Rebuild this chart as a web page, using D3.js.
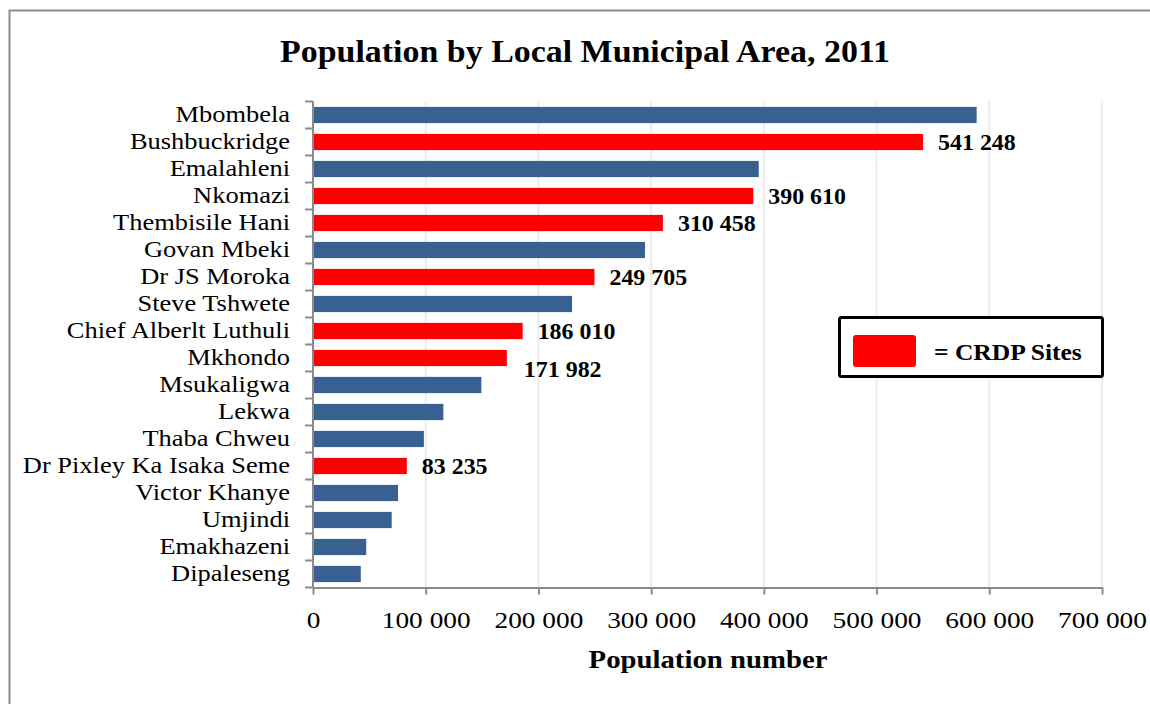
<!DOCTYPE html>
<html>
<head>
<meta charset="utf-8">
<script src="https://cdn.jsdelivr.net/npm/d3@7"></script>
<style>
  html, body { margin: 0; padding: 0; background: #fff; }
  svg { display: block; }
  text { font-family: "Liberation Serif", "Times New Roman", serif; fill: #000; }
</style>
</head>
<body>
<svg id="chart" width="1150" height="704"></svg>
<script>
// Local municipalities, listed top to bottom
const municipalities = [
  "Mbombela", "Bushbuckridge", "Emalahleni", "Nkomazi", "Thembisile Hani",
  "Govan Mbeki", "Dr JS Moroka", "Steve Tshwete", "Chief Alberlt Luthuli",
  "Mkhondo", "Msukaligwa", "Lekwa", "Thaba Chweu", "Dr Pixley Ka Isaka Seme",
  "Victor Khanye", "Umjindi", "Emakhazeni", "Dipaleseng"
];
// Population, 2011
const population = [
  588794, 541248, 395466, 390610, 310458,
  294538, 249705, 229831, 186010,
  171982, 149377, 115662, 98387, 83235,
  75452, 69800, 47216, 42390
];
// 1 = CRDP site (highlighted and labelled)
const crdpSite = [
  0, 1, 0, 1, 1,
  0, 1, 0, 1,
  1, 0, 0, 0, 1,
  0, 0, 0, 0
];
const xTickValues = [0, 100000, 200000, 300000, 400000, 500000, 600000, 700000];
const chartTitle = "Population by Local Municipal Area, 2011";
const xAxisTitle = "Population number";
const legendText = "= CRDP Sites";

const rows = municipalities.map((name, i) => ({ name, value: population[i], crdp: crdpSite[i] === 1 }));

const svg = d3.select("#chart");
const BLUE = "#386192", RED = "#ff0000", AXIS = "#8a8a8a", GRID = "#ececec";

const plot = { left: 313, right: 1102, top: 101.5, bottom: 587.5 };

const x = d3.scaleLinear().domain([0, 700000]).range([plot.left, plot.right]);
const y = d3.scaleBand().domain(municipalities).range([plot.top, plot.bottom])
  .paddingInner(0.4).paddingOuter(0.2);

const fmt = v => d3.format(",")(v).replace(/,/g, " ");

// widen the serif glyphs horizontally around their anchor point
function stretch(sel, sx) {
  sel.each(function () {
    const t = d3.select(this);
    const px = +t.attr("x") || 0, py = +t.attr("y") || 0;
    t.attr("x", 0).attr("y", 0)
      .attr("transform", `translate(${px},${py}) scale(${sx},1)`);
  });
}

// outer frame
svg.append("rect")
  .attr("x", 9.5).attr("y", 10.5).attr("width", 1200).attr("height", 760)
  .attr("fill", "none").attr("stroke", "#8c8c8c").attr("stroke-width", 2);

// title
svg.append("text")
  .attr("x", 585).attr("y", 62).attr("text-anchor", "middle")
  .attr("font-size", 32).attr("font-weight", "bold")
  .text(chartTitle)
  .call(stretch, 1.06);

// vertical gridlines
svg.append("g").selectAll("line").data(xTickValues.slice(1)).join("line")
  .attr("x1", d => x(d)).attr("x2", d => x(d))
  .attr("y1", plot.top).attr("y2", plot.bottom)
  .attr("stroke", GRID).attr("stroke-width", 2);

// bars
svg.append("g").selectAll("rect").data(rows).join("rect")
  .attr("x", x(0))
  .attr("y", d => y(d.name))
  .attr("width", d => x(d.value) - x(0))
  .attr("height", y.bandwidth())
  .attr("fill", d => d.crdp ? RED : BLUE);

// value labels on CRDP bars
const labelDrop = { "Mkhondo": 11 };
svg.append("g").selectAll("text").data(rows.filter(d => d.crdp)).join("text")
  .attr("x", d => x(d.value) + (labelDrop[d.name] ? 17 : 15))
  .attr("y", d => y(d.name) + y.bandwidth() / 2 + (labelDrop[d.name] || 0) + 8)
  .attr("font-size", 23).attr("font-weight", "bold")
  .text(d => fmt(d.value))
  .call(stretch, 1.04);

// y axis: line with ticks between categories
const yAxis = svg.append("g");
yAxis.append("line")
  .attr("x1", plot.left).attr("x2", plot.left)
  .attr("y1", plot.top).attr("y2", plot.bottom)
  .attr("stroke", AXIS).attr("stroke-width", 2);
const boundaries = d3.range(municipalities.length + 1)
  .map(i => plot.top + i * (plot.bottom - plot.top) / municipalities.length);
yAxis.selectAll("line.tick").data(boundaries).join("line").attr("class", "tick")
  .attr("x1", plot.left - 8).attr("x2", plot.left)
  .attr("y1", d => d).attr("y2", d => d)
  .attr("stroke", AXIS).attr("stroke-width", 2);
yAxis.selectAll("text").data(rows).join("text")
  .attr("x", 290)
  .attr("y", d => y(d.name) + y.bandwidth() / 2 + 7)
  .attr("text-anchor", "end")
  .attr("font-size", 23)
  .text(d => d.name)
  .call(stretch, 1.15);

// x axis
const xAxis = svg.append("g").attr("transform", `translate(0,${plot.bottom})`)
  .call(d3.axisBottom(x).tickValues(xTickValues).tickFormat(fmt).tickSize(7).tickSizeOuter(0));
xAxis.select(".domain").attr("stroke", AXIS).attr("stroke-width", 2);
xAxis.selectAll(".tick line").attr("stroke", AXIS).attr("stroke-width", 2);
xAxis.selectAll(".tick text")
  .attr("font-family", "Liberation Serif, serif").attr("font-size", 23)
  .attr("fill", "#000").attr("y", 40).attr("dy", null)
  .call(stretch, 1.19);

// x axis title
svg.append("text")
  .attr("x", 708).attr("y", 668).attr("text-anchor", "middle")
  .attr("font-size", 25).attr("font-weight", "bold")
  .text(xAxisTitle)
  .call(stretch, 1.15);

// legend
const lg = svg.append("g");
lg.append("rect")
  .attr("x", 839.5).attr("y", 317.5).attr("width", 263).attr("height", 59).attr("rx", 2)
  .attr("fill", "#fff").attr("stroke", "#000").attr("stroke-width", 3);
lg.append("rect")
  .attr("x", 853).attr("y", 335).attr("width", 63).attr("height", 32).attr("rx", 3)
  .attr("fill", RED);
lg.append("text")
  .attr("x", 934).attr("y", 360)
  .attr("font-size", 23).attr("font-weight", "bold")
  .text(legendText)
  .call(stretch, 1.11);
</script>
</body>
</html>
